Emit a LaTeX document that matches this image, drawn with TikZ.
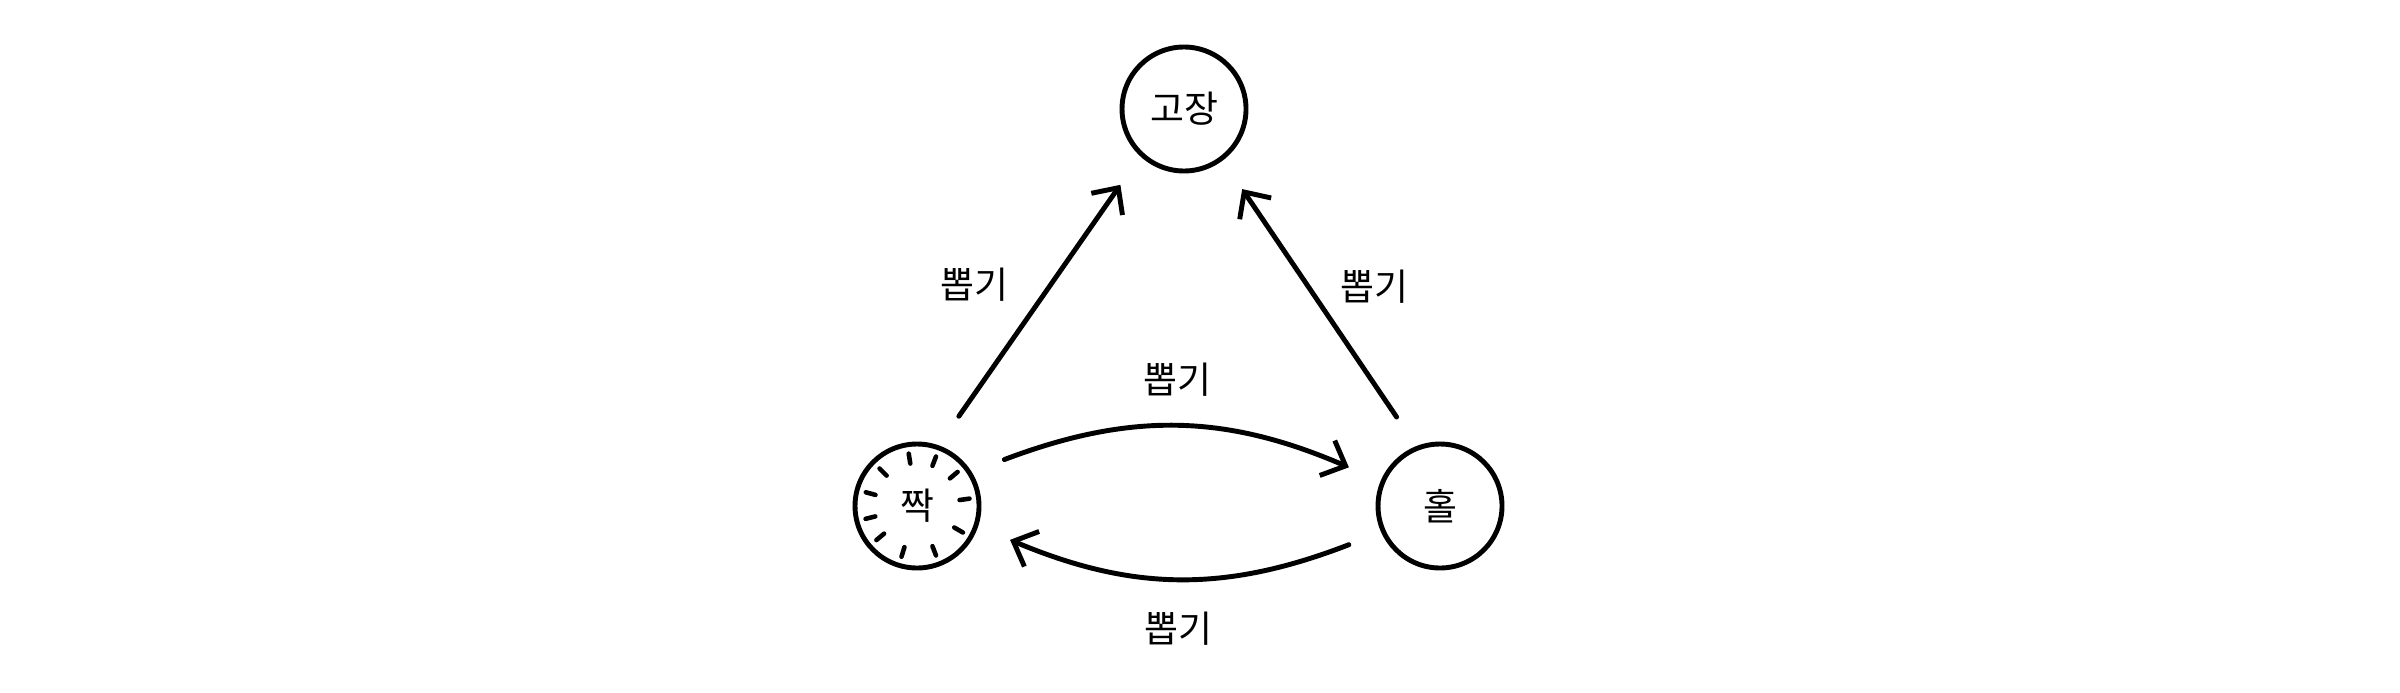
\documentclass[tikz,border=0pt]{standalone}
\usepackage{fontspec}
\setmainfont{Noto Sans CJK KR}
\usepackage{tikz}
\usetikzlibrary{arrows.meta, positioning}

\tikzset{
  st/.style={circle, draw, line width=1.4pt, minimum size=1.24cm, outer sep=0.37cm, font=\fontsize{10.5}{12}\selectfont},
  pick/.style={line width=1.4pt, line cap=round, -{Straight Barb[length=0.2cm, width=0.38cm, line width=1.4pt]}},
  lbl/.style={font=\fontsize{10.5}{12}\selectfont}
}

\begin{document}
\begin{tikzpicture}
  \useasboundingbox (0,0) rectangle (24,6.92);
  \node[st] (G) at (11.84,5.83) {고장};
  \node[st] (J) at (9.17,1.86) {짝};
  \node[st] (H) at (14.40,1.86) {홀};
  % clock ticks
  \foreach \a in {99,69,40,8,-30,-69,-107,-140,-166,165,135}
    \draw[line width=1.3pt, line cap=round] ([shift={(\a:0.43)}]J.center) -- ([shift={(\a:0.53)}]J.center);
  \draw[pick] (J.65) -- (G.230) node[lbl, pos=0.57, left=0.28cm] {뽑기};
  \draw[pick] (H.116) -- (G.306) node[lbl, pos=0.57, right=0.18cm] {뽑기};
  \draw[pick] (J.28) to[bend left=22] node[lbl, midway, above=0.15cm] {뽑기} (H.157);
  \draw[pick] (H.203) to[bend left=22] node[lbl, midway, below=0.18cm] {뽑기} (J.340);
\end{tikzpicture}
\end{document}
